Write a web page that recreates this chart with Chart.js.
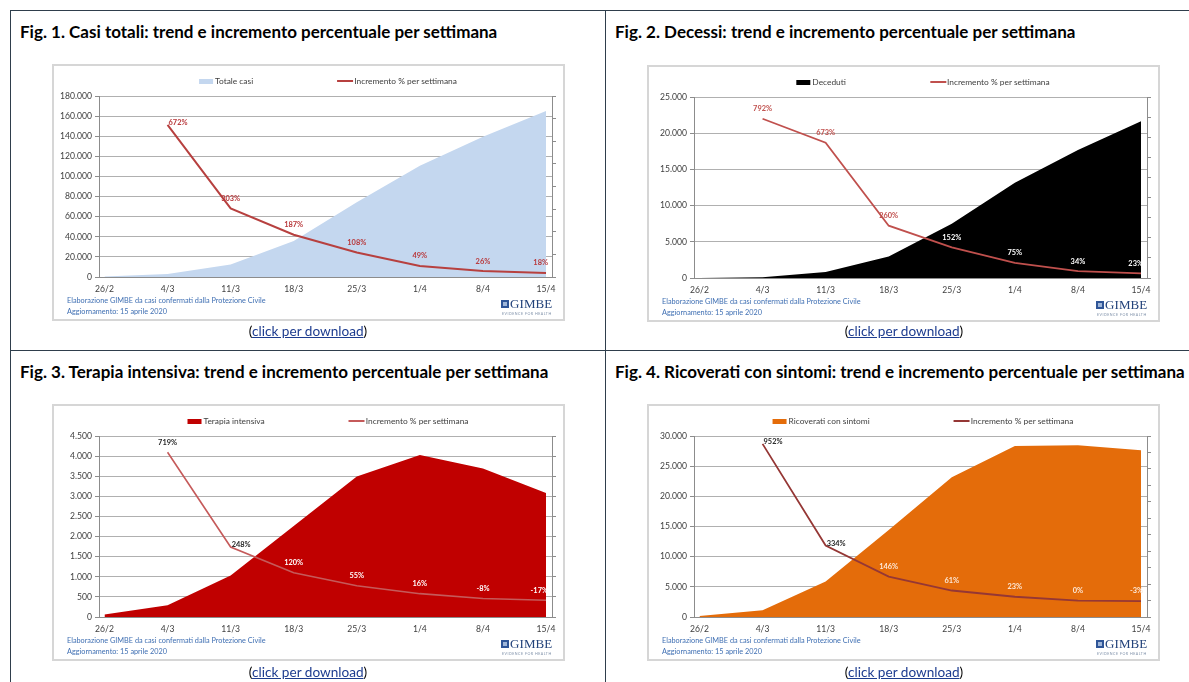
<!DOCTYPE html>
<html lang="it">
<head>
<meta charset="utf-8">
<title>GIMBE – trend settimanali</title>
<script src="https://cdn.jsdelivr.net/npm/chart.js@4.4.1/dist/chart.umd.min.js"></script>
<style>
  html, body { margin: 0; padding: 0; background: #fff; }
  body { position: relative; width: 1189px; height: 682px; overflow: hidden; font-family: Lato, "Open Sans", sans-serif; }
  .rule { position: absolute; background: #2f3e4c; }
  .title { position: absolute; font-weight: bold; font-size: 17px; color: #000; white-space: nowrap; line-height: 20px; }
  .panel { position: absolute; width: 513px; height: 257px; background: #fff; }
  .panel canvas { position: absolute; left: 0; top: 0; }
  .frame { position: absolute; left: 0; top: 0; right: 0; bottom: 0; border: 2px solid #d6d6d6; box-sizing: border-box; pointer-events: none; }
  .legend { position: absolute; left: 276px; transform: translate(-50%, -50%); display: flex; gap: 84px; white-space: nowrap; font-size: 8.4px; color: #404040; line-height: 10px; }
  .legend span { display: flex; align-items: center; }
  .legend .sw { display: inline-block; width: 14px; height: 5px; margin-right: 2px; }
  .legend .ln { display: inline-block; width: 16px; height: 2px; margin-right: 1px; }
  .note { position: absolute; left: 15px; font-size: 7.3px; color: #3f6fb3; white-space: nowrap; line-height: 9px; }
  .logo { position: absolute; left: 449px; top: 233px; width: 54px; height: 19px; }
  .logo .ic { position: absolute; left: 0; top: 3px; width: 8px; height: 8px; background: #2f5597; }
  .logo .ic::after { content: ""; position: absolute; left: 2px; top: 2px; width: 4px; height: 4px; background: #9fb6d9; }
  .logo .nm { position: absolute; left: 9px; top: 0; font-family: "Liberation Serif", "DejaVu Serif", serif; font-size: 13px; color: #22427a; line-height: 14px; letter-spacing: 0.1px; }
  .logo .tg { position: absolute; left: 1px; top: 14px; font-size: 3.6px; color: #7d8fa8; letter-spacing: 0.5px; white-space: nowrap; }
  .dl { position: absolute; transform: translate(-50%, -50%); font-size: 13.6px; color: #000; white-space: nowrap; }
  .dl a { color: #1d3c8f; text-decoration: underline; }
</style>
</head>
<body>

<div class="rule" style="left:10px; top:10px; width:1179px; height:1px;"></div>
<div class="rule" style="left:10px; top:350px; width:1179px; height:1px;"></div>
<div class="rule" style="left:10px; top:10px; width:1px; height:672px;"></div>
<div class="rule" style="left:605px; top:10px; width:1px; height:672px;"></div>

<div class="title" style="left:20px; top:22px;">Fig. 1. Casi totali: trend e incremento percentuale per settimana</div>
<div class="title" style="left:615px; top:22px;">Fig. 2. Decessi: trend e incremento percentuale per settimana</div>
<div class="title" style="left:20px; top:362px;">Fig. 3. Terapia intensiva: trend e incremento percentuale per settimana</div>
<div class="title" style="left:615px; top:362px;">Fig. 4. Ricoverati con sintomi: trend e incremento percentuale per settimana</div>

<div class="panel" id="p1" style="left:52px; top:64px;"></div>
<div class="panel" id="p2" style="left:647px; top:65px;"></div>
<div class="panel" id="p3" style="left:52px; top:404px;"></div>
<div class="panel" id="p4" style="left:647px; top:404px;"></div>

<div class="dl" style="left:308px; top:331px;">(<a href="#">click per download</a>)</div>
<div class="dl" style="left:904px; top:331px;">(<a href="#">click per download</a>)</div>
<div class="dl" style="left:308px; top:672px;">(<a href="#">click per download</a>)</div>
<div class="dl" style="left:904px; top:672px;">(<a href="#">click per download</a>)</div>

<script>
// Weekly reference dates (x axis)
const weeks = ['26/2', '4/3', '11/3', '18/3', '25/3', '1/4', '8/4', '15/4'];

// Fig. 1 – total confirmed cases and weekly % increase
const casiTotali = [450, 3100, 12500, 35700, 74400, 110600, 139400, 165200];
const incrCasi = [null, 672, 303, 187, 108, 49, 26, 18];

// Fig. 2 – deaths
const deceduti = [12, 110, 830, 2980, 7500, 13150, 17670, 21650];
const incrDecessi = [null, 792, 673, 260, 152, 75, 34, 23];

// Fig. 3 – intensive care
const terapiaIntensiva = [60, 295, 1030, 2260, 3490, 4030, 3690, 3080];
const incrTerapia = [null, 719, 248, 120, 55, 16, -8, -17];

// Fig. 4 – hospitalised with symptoms
const ricoverati = [160, 1100, 5900, 14400, 23150, 28350, 28450, 27640];
const incrRicoverati = [null, 952, 334, 146, 61, 23, 0, -3];

// Left axis ranges and secondary (percentage) axis ranges
const leftMax = [180000, 25000, 4500, 30000];
const leftStep = [20000, 5000, 500, 5000];
const pctMin = [0, 0, -100, -100];
const pctMax = [800, 900, 800, 1000];

const seriesNames = ['Totale casi', 'Deceduti', 'Terapia intensiva', 'Ricoverati con sintomi'];
const lineName = 'Incremento % per settimana';

const W = 513, H = 257;
const AREA = { left: 47, right: 500, top: 32, bottom: 213 };

const fmtIt = v => String(v).replace(/\B(?=(\d{3})+(?!\d))/g, '.');
const toXY = arr => arr.map((v, i) => ({ x: i, y: v }));

// Percentage labels drawn next to each point of the line series
const pctLabels = {
  id: 'pctLabels',
  afterDatasetsDraw(chart, args, opts) {
    const ctx = chart.ctx;
    const ds = chart.data.datasets[1];
    const meta = chart.getDatasetMeta(1);
    ctx.save();
    ctx.font = 'bold 7.4px Lato, sans-serif';
    ctx.textBaseline = 'middle';
    meta.data.forEach((pt, i) => {
      const v = ds.data[i].y;
      if (v === null || v === undefined) return;
      const text = v + '%';
      const w = ctx.measureText(text).width;
      let cx, cy;
      if (opts.beside.includes(i)) {
        cx = pt.x + 1 + w / 2;
        cy = pt.y - 2;
      } else {
        cx = pt.x;
        cy = pt.y - 10;
      }
      const maxRight = chart.chartArea.right - 4;
      if (cx + w / 2 > maxRight) cx = maxRight - w / 2;
      ctx.fillStyle = opts.colors[i] || opts.colors[opts.colors.length - 1];
      ctx.textAlign = 'center';
      ctx.fillText(text, cx, cy);
    });
    ctx.restore();
  }
};

function buildPanel(idx, values, pct, style) {
  const panel = document.getElementById('p' + (idx + 1));
  const canvas = document.createElement('canvas');
  canvas.width = W; canvas.height = H;
  panel.appendChild(canvas);

  // legend
  const lg = document.createElement('div');
  lg.className = 'legend';
  lg.style.top = '17px';
  const a = document.createElement('span');
  a.innerHTML = '<i class="sw"></i>';
  a.querySelector('.sw').style.background = style.fill;
  a.appendChild(document.createTextNode(seriesNames[idx]));
  const b = document.createElement('span');
  b.innerHTML = '<i class="ln"></i>';
  b.querySelector('.ln').style.background = style.line;
  b.appendChild(document.createTextNode(lineName));
  lg.appendChild(a); lg.appendChild(b);
  panel.appendChild(lg);

  // source notes
  const n1 = document.createElement('div');
  n1.className = 'note'; n1.style.top = '232px';
  n1.textContent = 'Elaborazione GIMBE da casi confermati dalla Protezione Civile';
  const n2 = document.createElement('div');
  n2.className = 'note'; n2.style.top = '243px';
  n2.textContent = 'Aggiornamento: 15 aprile 2020';
  panel.appendChild(n1); panel.appendChild(n2);

  const logo = document.createElement('div');
  logo.className = 'logo';
  logo.innerHTML = '<div class="ic"></div><div class="nm">GIMBE</div><div class="tg">EVIDENCE FOR HEALTH</div>';
  panel.appendChild(logo);

  const frame = document.createElement('div');
  frame.className = 'frame';
  panel.appendChild(frame);

  const tickFont = { family: 'Lato, sans-serif', size: 8.6 };

  new Chart(canvas, {
    type: 'line',
    data: {
      datasets: [
        {
          label: seriesNames[idx],
          data: toXY(values),
          yAxisID: 'y',
          fill: 'origin',
          backgroundColor: style.fill,
          borderWidth: 0,
          pointRadius: 0,
          tension: 0,
          order: 2
        },
        {
          label: lineName,
          data: toXY(pct),
          yAxisID: 'y1',
          fill: false,
          borderColor: style.line,
          borderWidth: style.lineWidth,
          pointRadius: 0,
          tension: 0,
          order: 1
        }
      ]
    },
    options: {
      responsive: false,
      animation: false,
      devicePixelRatio: 1,
      layout: {
        padding: { left: AREA.left - 40, right: W - AREA.right - 6, top: AREA.top, bottom: H - AREA.bottom - 20 }
      },
      plugins: {
        legend: { display: false },
        tooltip: { enabled: false },
        pctLabels: { colors: style.labelColors, beside: style.beside }
      },
      scales: {
        x: {
          type: 'linear',
          min: -0.087,
          max: 7.095,
          afterBuildTicks(scale) { scale.ticks = weeks.map((_, i) => ({ value: i })); },
          afterFit(scale) { scale.height = 20; },
          grid: { display: true, drawOnChartArea: false, drawTicks: false },
          border: { color: '#8c8c8c', width: 1 },
          ticks: {
            autoSkip: false, maxRotation: 0, padding: 7,
            color: '#404040', font: tickFont,
            callback: v => weeks[v]
          }
        },
        y: {
          position: 'left',
          min: 0, max: leftMax[idx],
          afterFit(scale) { scale.width = 40; },
          grid: { color: '#b0b0b0', tickLength: 4, tickColor: '#8c8c8c' },
          border: { color: '#8c8c8c', width: 1 },
          ticks: { stepSize: leftStep[idx], padding: 3, color: '#404040', font: tickFont, callback: v => fmtIt(v) }
        },
        y1: {
          position: 'right',
          min: pctMin[idx], max: pctMax[idx],
          afterFit(scale) { scale.width = 6; },
          grid: { drawOnChartArea: false, tickLength: 4, tickColor: '#8c8c8c' },
          border: { color: '#8c8c8c', width: 1 },
          ticks: { stepSize: 100, display: false }
        }
      }
    },
    plugins: [pctLabels]
  });
}

const white = '#ffffff';

buildPanel(0, casiTotali, incrCasi, {
  fill: '#c4d7ef', line: '#b7403f', lineWidth: 2,
  labelColors: ['#b8383b'], beside: [1]
});
buildPanel(1, deceduti, incrDecessi, {
  fill: '#000000', line: '#c0504d', lineWidth: 1.8,
  labelColors: ['', '#c0504d', '#c0504d', '#c0504d', white, white, white, white], beside: []
});
buildPanel(2, terapiaIntensiva, incrTerapia, {
  fill: '#c00000', line: '#c55a5a', lineWidth: 1.6,
  labelColors: ['', '#262626', '#262626', white, white, white, white, white], beside: [2]
});
buildPanel(3, ricoverati, incrRicoverati, {
  fill: '#e46c0a', line: '#953735', lineWidth: 1.8,
  labelColors: ['', '#262626', '#262626', '#fde9d9', '#fde9d9', '#fde9d9', '#fde9d9', '#fde9d9'], beside: [1, 2]
});
</script>
</body>
</html>
